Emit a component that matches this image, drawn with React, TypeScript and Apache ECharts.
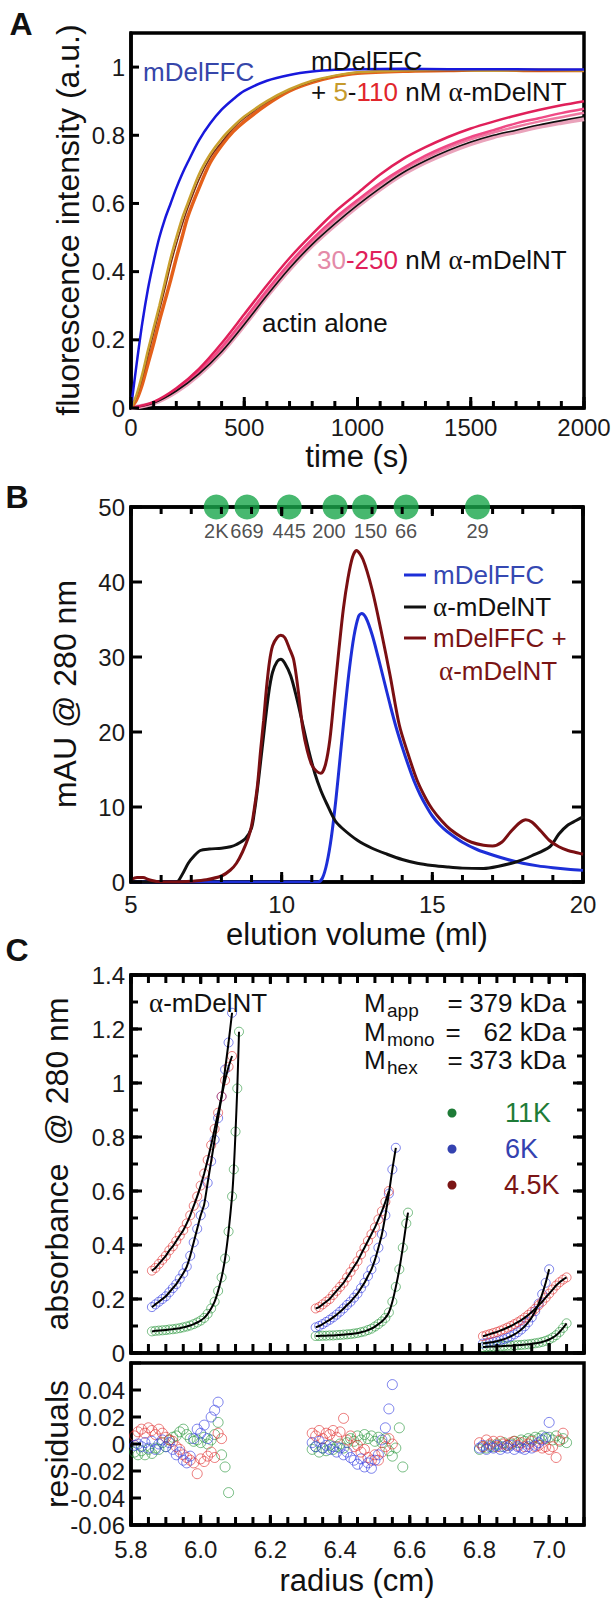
import React, { useEffect, useRef } from "react";
import * as echarts from "echarts";

const FONT = "'Liberation Sans', Arial, Helvetica, sans-serif";
const SERIF = "'Liberation Serif', 'DejaVu Serif', serif";

// ---------------- Panel A : pyrene-actin polymerization ----------------
const timeFast = [0, 25, 50, 75, 100, 125, 150, 175, 200, 225, 250, 300, 350, 400, 450, 500, 600, 700, 800, 900, 1000, 1200, 1400, 1600, 1800, 2000];
const fluorFFC = [0, 0.13, 0.25, 0.35, 0.43, 0.5, 0.555, 0.6, 0.645, 0.685, 0.72, 0.785, 0.835, 0.875, 0.905, 0.93, 0.96, 0.977, 0.987, 0.992, 0.994, 0.995, 0.994, 0.994, 0.993, 0.993];
const fluorFFC5 = [0, 0.04, 0.1, 0.17, 0.235, 0.3, 0.37, 0.44, 0.5, 0.555, 0.6, 0.685, 0.745, 0.79, 0.825, 0.855, 0.9, 0.935, 0.96, 0.975, 0.985, 0.99, 0.992, 0.99, 0.992, 0.99];
const fluorFFC30 = [0, 0.035, 0.09, 0.155, 0.22, 0.285, 0.35, 0.42, 0.48, 0.535, 0.585, 0.67, 0.735, 0.78, 0.82, 0.85, 0.897, 0.933, 0.958, 0.974, 0.984, 0.99, 0.99, 0.99, 0.99, 0.99];
const fluorFFC110 = [0, 0.025, 0.07, 0.13, 0.19, 0.255, 0.315, 0.375, 0.44, 0.5, 0.56, 0.645, 0.72, 0.77, 0.81, 0.84, 0.89, 0.93, 0.955, 0.972, 0.982, 0.988, 0.99, 0.992, 0.99, 0.99];

const timeSlow = [0, 100, 200, 300, 400, 500, 600, 700, 800, 900, 1000, 1100, 1200, 1300, 1400, 1500, 1600, 1700, 1800, 1900, 2000];
const fluorActin = [0, 0.015, 0.05, 0.1, 0.165, 0.245, 0.33, 0.41, 0.48, 0.54, 0.595, 0.645, 0.69, 0.725, 0.755, 0.78, 0.8, 0.815, 0.83, 0.843, 0.855];
const fluorNT30 = [0, 0.014, 0.048, 0.098, 0.163, 0.243, 0.328, 0.407, 0.477, 0.537, 0.592, 0.642, 0.686, 0.721, 0.75, 0.775, 0.795, 0.81, 0.825, 0.837, 0.848];
const fluorNT60 = [0, 0.016, 0.052, 0.104, 0.172, 0.252, 0.338, 0.418, 0.488, 0.55, 0.604, 0.654, 0.698, 0.733, 0.763, 0.788, 0.808, 0.825, 0.84, 0.853, 0.866];
const fluorNT120 = [0, 0.016, 0.054, 0.108, 0.178, 0.26, 0.345, 0.425, 0.495, 0.557, 0.61, 0.66, 0.703, 0.74, 0.77, 0.795, 0.815, 0.835, 0.85, 0.865, 0.878];
const fluorNT250 = [0, 0.018, 0.058, 0.115, 0.19, 0.275, 0.36, 0.44, 0.51, 0.575, 0.63, 0.685, 0.73, 0.765, 0.795, 0.82, 0.84, 0.858, 0.874, 0.888, 0.9];

// ---------------- Panel B : gel filtration ----------------
const volFFC = [5, 11.2, 11.35, 11.5, 11.65, 11.8, 11.95, 12.1, 12.25, 12.4, 12.55, 12.65, 12.8, 13.0, 13.2, 13.4, 13.6, 13.8, 14.0, 14.2, 14.4, 14.6, 14.8, 15.0, 15.25, 15.5, 16, 16.5, 17, 17.5, 18, 18.5, 19, 19.5, 20];
const mauFFC = [0, 0, 0.5, 2.5, 6, 11, 17, 23, 28.5, 32.8, 35.4, 35.8, 35.2, 33, 30, 26.8, 23.6, 20.6, 18, 15.6, 13.4, 11.6, 10.1, 8.8, 7.6, 6.7, 5.3, 4.3, 3.6, 3.0, 2.5, 2.15, 1.9, 1.7, 1.55];
const volNT = [5, 6.5, 6.7, 6.9, 7.1, 7.3, 7.6, 8.0, 8.3, 8.5, 8.8, 9.0, 9.1, 9.2, 9.3, 9.4, 9.5, 9.6, 9.7, 9.85, 9.97, 10.1, 10.3, 10.5, 10.7, 10.9, 11.1, 11.3, 11.5, 11.77, 12.0, 12.5, 13.0, 13.5, 14.0, 14.5, 15.0, 15.5, 16.0, 16.7, 17.2, 17.8, 18.3, 18.9, 19.2, 19.5, 19.77, 20];
const mauNT = [0, 0, 1, 2.5, 3.5, 4.2, 4.4, 4.5, 4.7, 5.0, 5.8, 7.2, 9.5, 12.5, 16, 19.5, 23, 26, 28, 29.4, 29.7, 29.2, 27.5, 24.5, 21, 17.5, 14.5, 12.2, 10.4, 8.2, 7.2, 5.6, 4.5, 3.7, 3.0, 2.5, 2.2, 2.0, 1.85, 1.8, 2.1, 2.7, 3.5, 4.7, 6.4, 7.6, 8.2, 8.7];
const volMix = [5.0, 5.2, 5.4, 5.6, 5.9, 6.5, 7.0, 7.5, 8.0, 8.3, 8.5, 8.7, 8.9, 9.0, 9.1, 9.2, 9.3, 9.4, 9.5, 9.6, 9.7, 9.85, 9.97, 10.1, 10.25, 10.4, 10.55, 10.7, 10.85, 11.0, 11.15, 11.3, 11.45, 11.6, 11.75, 11.9, 12.05, 12.2, 12.35, 12.48, 12.7, 13.0, 13.3, 13.6, 13.9, 14.2, 14.5, 14.8, 15.0, 15.3, 15.6, 16.0, 16.3, 16.7, 17.0, 17.3, 17.6, 17.9, 18.1, 18.3, 18.6, 18.9, 19.2, 19.5, 19.8, 20];
const mauMix = [0.3, 0.6, 0.6, 0.3, 0.05, 0, 0.1, 0.3, 0.8, 1.6, 2.5, 4, 6, 7.5, 10, 13, 17.5, 21.5, 26, 29.5, 31.5, 32.6, 32.9, 32.6, 31.2, 29.6, 25.5, 20.5, 17.5, 15.6, 14.8, 14.5, 15.6, 19, 25, 31, 36.5, 40.5, 43.3, 44.2, 43, 39, 33.5, 27.5, 21, 17, 13.5, 11, 9.7, 8.2, 7.0, 5.9, 5.3, 4.9, 4.8, 5.3, 6.7, 7.9, 8.3, 8.0, 6.8, 5.5, 4.7, 4.2, 3.9, 3.7];
const standardVol = [7.83, 8.85, 10.25, 11.77, 12.75, 14.13, 16.5];
const standardLabels = ["2K", "669", "445", "200", "150", "66", "29"];

// ---------------- Panel C : sedimentation equilibrium ----------------
const radRB1 = [5.86, 5.87, 5.88, 5.89, 5.9, 5.91, 5.92, 5.93, 5.94, 5.95, 5.96, 5.97, 5.98, 5.99, 6.0, 6.01, 6.02, 6.03, 6.04, 6.05, 6.06, 6.07, 6.08, 6.09];
const abs45K1 = [0.305, 0.315, 0.33, 0.345, 0.36, 0.38, 0.395, 0.415, 0.435, 0.455, 0.48, 0.51, 0.545, 0.58, 0.62, 0.665, 0.715, 0.77, 0.83, 0.89, 0.95, 1.01, 1.06, 1.1];
const abs6K1 = [0.17, 0.18, 0.19, 0.2, 0.21, 0.225, 0.24, 0.255, 0.275, 0.295, 0.32, 0.36, 0.41, 0.46, 0.51, 0.55, 0.63, 0.71, 0.79, 0.87, 0.95, 1.05, 1.15, 1.26];
const radG1 = [5.86, 5.87, 5.88, 5.89, 5.9, 5.91, 5.92, 5.93, 5.94, 5.95, 5.96, 5.97, 5.98, 5.99, 6.0, 6.01, 6.02, 6.03, 6.04, 6.05, 6.06, 6.07, 6.08, 6.09, 6.095, 6.1, 6.105, 6.11];
const abs11K1 = [0.08, 0.082, 0.083, 0.084, 0.085, 0.087, 0.088, 0.09, 0.092, 0.095, 0.098, 0.102, 0.107, 0.113, 0.12, 0.13, 0.145, 0.165, 0.19, 0.23, 0.28, 0.35, 0.45, 0.58, 0.68, 0.82, 0.98, 1.19];

const radR2 = [6.33, 6.34, 6.35, 6.36, 6.37, 6.38, 6.39, 6.4, 6.41, 6.42, 6.43, 6.44, 6.45, 6.46, 6.47, 6.48, 6.49, 6.5, 6.51, 6.52, 6.53, 6.54];
const abs45K2 = [0.165, 0.17, 0.18, 0.19, 0.2, 0.215, 0.23, 0.245, 0.26, 0.28, 0.3, 0.32, 0.34, 0.365, 0.39, 0.415, 0.44, 0.465, 0.495, 0.525, 0.56, 0.6];
const radB2 = [6.33, 6.34, 6.35, 6.36, 6.37, 6.38, 6.39, 6.4, 6.41, 6.42, 6.43, 6.44, 6.45, 6.46, 6.47, 6.48, 6.49, 6.5, 6.51, 6.52, 6.53, 6.54, 6.55, 6.56];
const abs6K2 = [0.095, 0.1, 0.107, 0.115, 0.123, 0.132, 0.142, 0.153, 0.165, 0.178, 0.19, 0.205, 0.22, 0.24, 0.26, 0.285, 0.31, 0.345, 0.39, 0.44, 0.51, 0.59, 0.68, 0.76];
const radG2 = [6.33, 6.34, 6.35, 6.36, 6.37, 6.38, 6.39, 6.4, 6.41, 6.42, 6.43, 6.44, 6.45, 6.46, 6.47, 6.48, 6.49, 6.5, 6.51, 6.52, 6.53, 6.54, 6.55, 6.56, 6.57, 6.58, 6.59, 6.595];
const abs11K2 = [0.063, 0.063, 0.064, 0.064, 0.065, 0.065, 0.066, 0.067, 0.068, 0.069, 0.07, 0.072, 0.074, 0.077, 0.08, 0.085, 0.09, 0.098, 0.107, 0.117, 0.13, 0.15, 0.19, 0.245, 0.31, 0.39, 0.48, 0.52];

const radRG3 = [6.81, 6.82, 6.83, 6.84, 6.85, 6.86, 6.87, 6.88, 6.89, 6.9, 6.91, 6.92, 6.93, 6.94, 6.95, 6.96, 6.97, 6.98, 6.99, 7.0, 7.01, 7.02, 7.03, 7.04, 7.05];
const abs45K3 = [0.062, 0.066, 0.07, 0.074, 0.078, 0.083, 0.088, 0.094, 0.1, 0.107, 0.114, 0.122, 0.131, 0.141, 0.152, 0.164, 0.177, 0.19, 0.205, 0.22, 0.235, 0.25, 0.262, 0.272, 0.28];
const abs11K3 = [0.022, 0.023, 0.024, 0.024, 0.025, 0.025, 0.026, 0.027, 0.027, 0.028, 0.029, 0.03, 0.031, 0.032, 0.034, 0.036, 0.038, 0.041, 0.045, 0.05, 0.057, 0.066, 0.078, 0.093, 0.11];
const radB3 = [6.81, 6.82, 6.83, 6.84, 6.85, 6.86, 6.87, 6.88, 6.89, 6.9, 6.91, 6.92, 6.93, 6.94, 6.95, 6.96, 6.97, 6.98, 6.99, 7.0];
const abs6K3 = [0.035, 0.037, 0.039, 0.041, 0.044, 0.047, 0.051, 0.056, 0.062, 0.069, 0.077, 0.087, 0.099, 0.114, 0.132, 0.155, 0.183, 0.218, 0.26, 0.31];

// residuals
const resRad45K = [5.81, 5.82, 5.83, 5.84, 5.85, 5.86, 5.87, 5.88, 5.89, 5.9, 5.91, 5.92, 5.93, 5.94, 5.95, 5.96, 5.97, 5.98, 5.99, 6.0, 6.01, 6.02, 6.03, 6.04, 6.05, 6.06,
  6.32, 6.33, 6.34, 6.35, 6.36, 6.37, 6.38, 6.39, 6.4, 6.41, 6.42, 6.43, 6.44, 6.45, 6.46, 6.47, 6.48, 6.49, 6.5, 6.51, 6.52, 6.53, 6.54, 6.55,
  6.8, 6.81, 6.82, 6.83, 6.84, 6.85, 6.86, 6.87, 6.88, 6.89, 6.9, 6.91, 6.92, 6.93, 6.94, 6.95, 6.96, 6.97, 6.98, 6.99, 7.0, 7.01, 7.02, 7.03, 7.04];
const res45K = [0.006, 0.009, 0.011, 0.008, 0.012, 0.01, 0.007, 0.011, 0.008, 0.005, 0.003, 0.002, -0.002, -0.004, -0.008, -0.01, -0.012, -0.014, -0.022, -0.011, -0.013, -0.009, -0.006, -0.01, 0.008, 0.004,
  0.008, 0.006, 0.01, 0.004, 0.008, 0.007, 0.01, 0.005, 0.009, 0.019, 0.003, 0.006, -0.002, -0.001, -0.006, -0.004, -0.01, -0.012, -0.008, -0.012, -0.006, -0.002, 0.004, 0.0,
  0.001, -0.002, 0.003, 0.0, 0.002, -0.002, 0.002, 0.0, -0.001, 0.001, 0.002, -0.001, 0.001, -0.002, 0.0, 0.002, -0.002, -0.001, -0.003, -0.002, -0.004, -0.002, -0.01, 0.003, 0.008];
const resRad6K = [5.81, 5.82, 5.83, 5.84, 5.85, 5.86, 5.87, 5.88, 5.89, 5.9, 5.91, 5.92, 5.93, 5.94, 5.95, 5.96, 5.97, 5.98, 5.99, 6.0, 6.01, 6.02, 6.03, 6.04, 6.05,
  6.32, 6.33, 6.34, 6.35, 6.36, 6.37, 6.38, 6.39, 6.4, 6.41, 6.42, 6.43, 6.44, 6.45, 6.46, 6.47, 6.48, 6.49, 6.5, 6.51, 6.52, 6.53, 6.54, 6.55,
  6.8, 6.81, 6.82, 6.83, 6.84, 6.85, 6.86, 6.87, 6.88, 6.89, 6.9, 6.91, 6.92, 6.93, 6.94, 6.95, 6.96, 6.97, 6.98, 6.99, 7.0];
const res6K = [-0.001, 0, -0.002, 0.001, -0.003, 0.002, -0.004, 0, 0.003, -0.002, 0.001, -0.004, -0.008, -0.006, -0.012, -0.014, -0.009, 0.004, 0.011, 0.008, 0.014, 0.004, 0.02, 0.025, 0.031,
  0.001, -0.002, 0.002, -0.003, -0.001, -0.004, -0.002, -0.006, -0.003, -0.008, -0.006, -0.01, -0.012, -0.015, -0.011, -0.017, -0.014, -0.018, -0.012, -0.008, 0.003, 0.012, 0.026, 0.044,
  -0.003, -0.001, -0.004, -0.002, -0.003, -0.001, -0.004, -0.002, -0.003, -0.001, -0.004, -0.002, -0.003, -0.004, -0.002, -0.003, -0.001, 0.001, 0.003, 0.005, 0.016];
const resRad11K = [5.81, 5.82, 5.83, 5.84, 5.85, 5.86, 5.87, 5.88, 5.89, 5.9, 5.91, 5.92, 5.93, 5.94, 5.95, 5.96, 5.97, 5.98, 5.99, 6.0, 6.01, 6.02, 6.03, 6.04, 6.05, 6.06, 6.07, 6.08,
  6.32, 6.33, 6.34, 6.35, 6.36, 6.37, 6.38, 6.39, 6.4, 6.41, 6.42, 6.43, 6.44, 6.45, 6.46, 6.47, 6.48, 6.49, 6.5, 6.51, 6.52, 6.53, 6.54, 6.55, 6.56, 6.57, 6.58,
  6.8, 6.81, 6.82, 6.83, 6.84, 6.85, 6.86, 6.87, 6.88, 6.89, 6.9, 6.91, 6.92, 6.93, 6.94, 6.95, 6.96, 6.97, 6.98, 6.99, 7.0, 7.01, 7.02, 7.03, 7.04, 7.05];
const res11K = [-0.006, -0.008, -0.005, -0.008, -0.004, -0.007, -0.003, -0.004, 0.001, -0.002, 0.003, 0.005, 0.006, 0.009, 0.011, 0.007, 0.004, 0.002, 0.003, 0.001, 0.005, 0.0, 0.003, 0.007, 0.016, -0.008, -0.017, -0.036,
  -0.004, -0.002, -0.006, -0.003, -0.005, -0.001, -0.004, -0.002, 0.0, -0.003, 0.001, 0.004, 0.002, 0.006, 0.003, 0.007, 0.004, 0.006, 0.002, 0.005, 0.001, 0.004, -0.005, -0.009, -0.003, 0.012, -0.017,
  -0.004, -0.002, -0.003, -0.001, -0.002, 0.0, -0.002, 0.001, -0.001, 0.0, 0.002, 0.001, 0.003, 0.002, 0.004, 0.003, 0.005, 0.004, 0.006, 0.004, 0.005, 0.003, 0.006, 0.002, 0.004, 0.001];

const pairs = (xs: number[], ys: number[]) => xs.map((x, i) => [x, ys[i]]);

const GREEN = "rgba(40,150,60,0.8)";
const BLUE = "rgba(50,60,225,0.8)";
const RED = "rgba(225,50,50,0.8)";

// grid rectangles (layout) and axis ranges per panel
const RECTS = [
  { left: 131, top: 33, width: 453, height: 375 },
  { left: 131, top: 507, width: 452, height: 375 },
  { left: 131, top: 975, width: 453, height: 378 },
  { left: 131, top: 1363, width: 453, height: 162 },
];
const RANGES = [
  { x: [0, 2000], y: [0, 1.1] },
  { x: [5, 20], y: [0, 50] },
  { x: [5.8, 7.1], y: [0, 1.4] },
  { x: [5.8, 7.1], y: [-0.06, 0.06] },
];
// tick marks: side, step, length (per panel)
const TICKS: [string, number, number][][] = [
  [["bottom", 500, 11], ["bottom", 100, 7], ["left", 0.2, 8]],
  [["bottom", 5, 10], ["bottom", 1, 7], ["top", 5, 9], ["top", 1, 7], ["left", 10, 11], ["right", 10, 11]],
  [["bottom", 0.2, 10], ["bottom", 0.05, 9], ["top", 0.2, 9], ["top", 0.05, 8],
   ["left", 0.2, 11], ["left", 0.1, 7], ["right", 0.2, 11], ["right", 0.1, 7]],
  [["bottom", 0.2, 10], ["bottom", 0.05, 8], ["left", 0.02, 10]],
];
const TICK_W = 3;

// tick marks as small filled rectangles reaching into the plot from the frame
function tickGraphics(): any[] {
  const els: any[] = [];
  TICKS.forEach((list, pi) => {
    const r = RECTS[pi];
    const g = RANGES[pi];
    for (const [side, step, len] of list) {
      const horizontal = side === "bottom" || side === "top";
      const range = horizontal ? g.x : g.y;
      const k0 = Math.ceil(range[0] / step - 1e-6);
      const k1 = Math.floor(range[1] / step + 1e-6);
      for (let k = k0; k <= k1; k++) {
        const v = k * step;
        let shape: any;
        if (horizontal) {
          const x = r.left + ((v - g.x[0]) / (g.x[1] - g.x[0])) * r.width;
          const y = side === "bottom" ? r.top + r.height - len : r.top;
          shape = { x: x - TICK_W / 2, y, width: TICK_W, height: len };
        } else {
          const y = r.top + r.height - ((v - g.y[0]) / (g.y[1] - g.y[0])) * r.height;
          const x = side === "left" ? r.left : r.left + r.width - len;
          shape = { x, y: y - TICK_W / 2, width: len, height: TICK_W };
        }
        els.push({ type: "rect", z: 100, silent: true, shape, style: { fill: "#000" } });
      }
    }
  });
  return els;
}

function buildOption(): any {
  const label = (extra: any = {}) => ({ show: true, color: "#1a1a1a", fontSize: 24, fontFamily: FONT, formatter: (v: number) => String(v), ...extra });
  const axis = (o: any) => ({
    type: "value",
    axisLine: { show: true, onZero: false, lineStyle: { color: "#000", width: 3.5 } },
    splitLine: { show: false },
    axisTick: { show: false },
    minorTick: { show: false },
    axisLabel: o.label === false ? { show: false } : label(o.label || {}),
    gridIndex: o.grid,
    position: o.position,
    min: o.min,
    max: o.max,
    interval: o.interval,
  });

  const grids = RECTS.map((g) => ({ ...g, show: true, borderColor: "#000", borderWidth: 3.5, backgroundColor: "transparent", containLabel: false, outerBoundsMode: "none" }));

  const xAxis = [
    axis({ grid: 0, position: "bottom", min: 0, max: 2000, interval: 500, label: { margin: 7 } }),
    axis({ grid: 1, position: "bottom", min: 5, max: 20, interval: 5, label: { margin: 10 } }),
    axis({ grid: 1, position: "top", min: 5, max: 20, interval: 5, label: false }),
    axis({ grid: 2, position: "bottom", min: 5.8, max: 7.1, interval: 0.2, label: false }),
    axis({ grid: 2, position: "top", min: 5.8, max: 7.1, interval: 0.2, label: false }),
    axis({ grid: 3, position: "bottom", min: 5.8, max: 7.1, interval: 0.2, label: { margin: 12, showMaxLabel: false, formatter: (v: number) => v.toFixed(1) } }),
  ];
  const yAxis = [
    axis({ grid: 0, position: "left", min: 0, max: 1.1, interval: 0.2, label: { margin: 6, showMaxLabel: false } }),
    axis({ grid: 1, position: "left", min: 0, max: 50, interval: 10, label: { margin: 6 } }),
    axis({ grid: 1, position: "right", min: 0, max: 50, interval: 10, label: false }),
    axis({ grid: 2, position: "left", min: 0, max: 1.4, interval: 0.2, label: { margin: 6 } }),
    axis({ grid: 2, position: "right", min: 0, max: 1.4, interval: 0.2, label: false }),
    axis({ grid: 3, position: "left", min: -0.06, max: 0.06, interval: 0.02, label: { margin: 6, showMaxLabel: false } }),
  ];

  const line = (xi: number, yi: number, data: any[], color: string, width: number, z = 2, smooth: any = 0.3) => ({
    type: "line", xAxisIndex: xi, yAxisIndex: yi, data, showSymbol: false, symbol: "none", smooth,
    lineStyle: { color, width }, z, silent: true, animation: false,
  });
  const scatter = (xi: number, yi: number, data: any[], color: string, size: number, z = 2) => ({
    type: "scatter", xAxisIndex: xi, yAxisIndex: yi, data, symbol: "circle", symbolSize: size,
    itemStyle: { color: "rgba(0,0,0,0)", borderColor: color, borderWidth: 1 }, z, silent: true, animation: false,
  });

  const labelOffsets: number[][] = [[0, 0], [0, 0], [0, 0], [-6, 0], [6, 0], [0, 0], [0, 0]];

  const series: any[] = [
    // Panel A
    line(0, 0, pairs(timeSlow, fluorNT30), "#eaa3bb", 4.5, 2),
    line(0, 0, pairs(timeSlow, fluorNT60), "#ee7aa2", 2.5, 3),
    line(0, 0, pairs(timeSlow, fluorNT120), "#f04a86", 2.5, 3),
    line(0, 0, pairs(timeSlow, fluorActin), "#111111", 1.6, 4),
    line(0, 0, pairs(timeSlow, fluorNT250), "#e0205a", 2.5, 4),
    line(0, 0, pairs(timeFast, fluorFFC110), "#e4601a", 3.5, 5),
    line(0, 0, pairs(timeFast, fluorFFC30), "#7a2a12", 1.5, 5),
    line(0, 0, pairs(timeFast, fluorFFC5), "#c9a02e", 2.5, 6),
    line(0, 0, pairs(timeFast, fluorFFC), "#1818dc", 2.5, 7),
    // Panel B
    line(1, 1, pairs(volFFC, mauFFC), "#1d2fd8", 3, 3),
    line(1, 1, pairs(volNT, mauNT), "#111111", 3, 4),
    line(1, 1, pairs(volMix, mauMix), "#7a0f12", 3, 5),
    {
      type: "scatter", xAxisIndex: 1, yAxisIndex: 1, clip: false, symbol: "circle", symbolSize: 25, z: 30, silent: true,
      data: standardVol.map((v, i) => ({ value: [v, 50], name: standardLabels[i], label: { offset: labelOffsets[i] } })),
      itemStyle: { color: "#19a64b" },
      label: { show: true, position: "bottom", distance: 1, formatter: "{b}", color: "#222", fontSize: 20, fontFamily: FONT },
    },
    // Panel C data
    scatter(3, 3, pairs(radG1, abs11K1).concat(pairs(radG2, abs11K2), pairs(radRG3, abs11K3)), GREEN, 9, 2),
    scatter(3, 3, pairs(radRB1, abs6K1).concat(pairs(radB2, abs6K2), pairs(radB3, abs6K3)), BLUE, 9, 2),
    scatter(3, 3, pairs(radRB1, abs45K1).concat(pairs(radR2, abs45K2), pairs(radRG3, abs45K3)), RED, 9, 2),
    // fits
    line(3, 3, pairs(radG1, abs11K1), "#000", 2, 6, 0.2),
    line(3, 3, pairs(radG2, abs11K2), "#000", 2, 6, 0.2),
    line(3, 3, pairs(radRG3, abs11K3), "#000", 2, 6, 0.2),
    line(3, 3, pairs(radRB1, abs6K1), "#000", 2, 6, 0.2),
    line(3, 3, pairs(radB2, abs6K2), "#000", 2, 6, 0.2),
    line(3, 3, pairs(radB3, abs6K3), "#000", 2, 6, 0.2),
    line(3, 3, pairs(radRB1, abs45K1), "#000", 2, 6, 0.2),
    line(3, 3, pairs(radR2, abs45K2), "#000", 2, 6, 0.2),
    line(3, 3, pairs(radRG3, abs45K3), "#000", 2, 6, 0.2),
    // residuals
    scatter(5, 5, pairs(resRad11K, res11K), GREEN, 10, 2),
    scatter(5, 5, pairs(resRad45K, res45K), RED, 10, 3),
    scatter(5, 5, pairs(resRad6K, res6K), BLUE, 10, 4),
  ];

  return {
    animation: false,
    backgroundColor: "#fff",
    textStyle: { fontFamily: FONT },
    grid: grids,
    xAxis,
    yAxis,
    series,
    graphic: tickGraphics().concat(buildGraphic()),
  };
}

function buildGraphic(): any[] {
  const txt = (x: number, y: number, text: string, o: any = {}) => ({
    type: "text", x, y, z: 100, silent: true, rotation: o.rotation || 0,
    style: {
      text, fontFamily: o.fontFamily || FONT, fontSize: o.fontSize || 26, fontWeight: o.fontWeight || "normal",
      fill: o.fill || "#111", align: o.align || "left", verticalAlign: "middle", rich: o.rich,
    },
  });
  const tok = (fill: string, size = 26, family = FONT) => ({ fill, color: fill, fontSize: size, fontFamily: family });
  const richBase = { k: tok("#111"), a: tok("#111", 27, SERIF) };

  return [
    // panel letters
    txt(21, 24, "A", { fontSize: 32, fontWeight: "bold", align: "center" }),
    txt(17, 497, "B", { fontSize: 32, fontWeight: "bold", align: "center" }),
    txt(17, 950, "C", { fontSize: 32, fontWeight: "bold", align: "center" }),
    // axis titles
    txt(68, 220, "fluorescence intensity (a.u.)", { fontSize: 32, align: "center", rotation: Math.PI / 2 }),
    txt(357, 456, "time (s)", { fontSize: 31, align: "center" }),
    txt(65, 694, "mAU @ 280 nm", { fontSize: 32, align: "center", rotation: Math.PI / 2 }),
    txt(357, 934, "elution volume (ml)", { fontSize: 31, align: "center" }),
    txt(57, 1164, "absorbance  @ 280 nm", { fontSize: 32, align: "center", rotation: Math.PI / 2 }),
    txt(57, 1444, "residuals", { fontSize: 32, align: "center", rotation: Math.PI / 2 }),
    txt(357, 1580, "radius (cm)", { fontSize: 31, align: "center" }),
    // panel A annotations
    txt(143, 72, "mDelFFC", { fill: "#3646aa" }),
    txt(311, 61, "mDelFFC"),
    txt(311, 92, "{k|+ }{g|5}{k|-}{r|110}{k| nM }{a|α}{k|-mDelNT}", { rich: { ...richBase, g: tok("#c69a2c"), r: tok("#e1262b") } }),
    txt(317, 260, "{p|30}{r|-250}{k| nM }{a|α}{k|-mDelNT}", { rich: { ...richBase, p: tok("#e48aa8"), r: tok("#e0205a") } }),
    txt(262, 323, "actin alone"),
    // panel B legend
    { type: "line", z: 100, silent: true, shape: { x1: 404, y1: 575, x2: 426, y2: 575 }, style: { stroke: "#1d2fd8", lineWidth: 3 } },
    { type: "line", z: 100, silent: true, shape: { x1: 404, y1: 607, x2: 426, y2: 607 }, style: { stroke: "#111", lineWidth: 3 } },
    { type: "line", z: 100, silent: true, shape: { x1: 404, y1: 638, x2: 426, y2: 638 }, style: { stroke: "#7a0f12", lineWidth: 3 } },
    txt(433, 575, "mDelFFC", { fill: "#3548b2" }),
    txt(433, 607, "{a|α}{k|-mDelNT}", { rich: richBase }),
    txt(433, 638, "mDelFFC +", { fill: "#7a1414" }),
    txt(439, 671, "{a|α}{k|-mDelNT}", { rich: { k: tok("#7a1414"), a: tok("#7a1414", 27, SERIF) } }),
    // panel C annotations
    txt(149, 1003, "{a|α}{k|-mDelNT}", { rich: richBase }),
    txt(364, 1003, "M"), txt(387, 1010, "app", { fontSize: 19 }), txt(455, 1003, "=", { align: "center" }), txt(566, 1003, "379 kDa", { align: "right" }),
    txt(364, 1032, "M"), txt(387, 1039, "mono", { fontSize: 19 }), txt(453, 1032, "=", { align: "center" }), txt(566, 1032, "62 kDa", { align: "right" }),
    txt(364, 1060, "M"), txt(387, 1067, "hex", { fontSize: 19 }), txt(455, 1060, "=", { align: "center" }), txt(566, 1060, "373 kDa", { align: "right" }),
    { type: "circle", z: 100, silent: true, shape: { cx: 452, cy: 1113, r: 4.5 }, style: { fill: "#1e7b37" } },
    { type: "circle", z: 100, silent: true, shape: { cx: 452, cy: 1149, r: 4.5 }, style: { fill: "#3442b0" } },
    { type: "circle", z: 100, silent: true, shape: { cx: 452, cy: 1185, r: 4.5 }, style: { fill: "#7b1515" } },
    txt(505, 1113, "11K", { fontSize: 27, fill: "#1e7b37" }),
    txt(505, 1149, "6K", { fontSize: 27, fill: "#3442b0" }),
    txt(504, 1185, "4.5K", { fontSize: 27, fill: "#7b1515" }),
  ];
}

export default function App() {
  const ref = useRef<HTMLDivElement>(null);
  useEffect(() => {
    if (!ref.current) return;
    const chart = echarts.init(ref.current, null, { renderer: "svg" });
    chart.setOption(buildOption());
    return () => chart.dispose();
  }, []);
  return (
    <div
      ref={ref}
      style={{ position: "absolute", left: 0, top: 0, width: 616, height: 1599, background: "#fff" }}
    />
  );
}
